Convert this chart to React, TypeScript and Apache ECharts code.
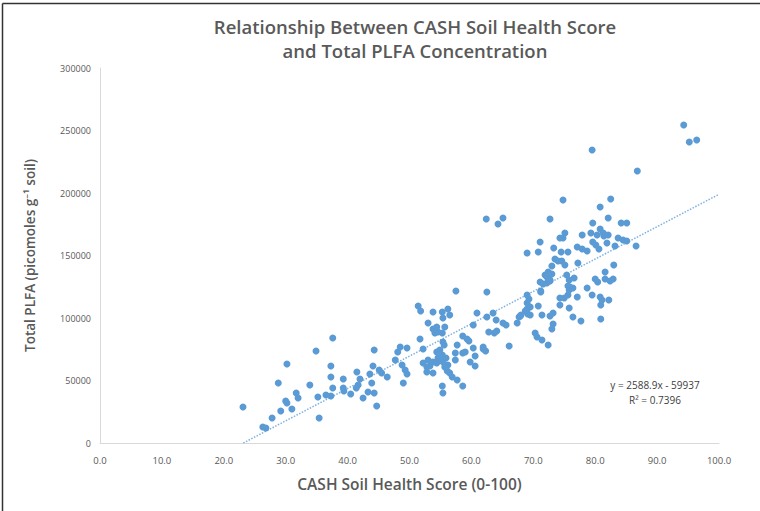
import React, { useEffect, useRef } from "react";
import * as echarts from "echarts";

const TITLE_LINES = ["Relationship Between CASH Soil Health Score", "and Total PLFA Concentration"];
const X_TITLE = "CASH Soil Health Score (0-100)";
const Y_TITLE = "Total PLFA (picomoles g\u207B\u00B9 soil)";
const EQUATION = "y = 2588.9x - 59937";
const R2_TEXT = "R\u00B2 = 0.7396";
const TREND_SLOPE = 2588.9;
const TREND_INTERCEPT = -59937;

const SCORES = [
  23.1, 26.3, 26.8, 27.8, 28.8, 29.2, 30.2, 30.0, 30.2, 31.0, 31.7, 32.0, 33.9, 34.9, 35.2, 35.4, 36.5, 37.3, 37.3, 37.3,
  37.6, 37.6, 39.3, 39.3, 39.4, 40.5, 41.5, 41.4, 41.7, 42.0, 42.5, 43.3, 43.6, 43.9, 44.3, 44.3, 44.1, 44.7, 45.1, 45.5,
  46.4, 47.7, 48.1, 48.5, 49.6, 48.8, 49.3, 49.6, 49.0, 51.4, 51.8, 53.8, 55.3, 56.2, 56.5, 55.4, 53.0, 53.8, 54.1, 54.6,
  55.3, 54.4, 55.7, 51.7, 52.2, 55.4, 55.6, 58.6, 59.3, 59.6, 57.7, 57.4, 58.6, 59.0, 52.2, 52.8, 52.8, 53.8, 54.4, 54.6,
  55.3, 55.4, 55.7, 56.1, 56.2, 56.5, 56.9, 57.7, 58.6, 55.3, 55.4, 53.0, 53.8, 53.3, 55.0, 54.4, 55.9, 54.9, 57.5, 57.4,
  60.3, 60.6, 59.8, 60.6, 61.9, 62.3, 62.5, 60.9, 60.3, 62.5, 63.5, 64.0, 65.1, 65.6, 62.8, 63.7, 64.1, 67.4, 67.9, 68.7,
  69.0, 69.1, 66.1, 70.3, 70.6, 71.4, 72.4, 73.0, 73.2, 69.0, 69.3, 69.0, 69.5, 68.0, 67.7, 69.5, 70.8, 71.4, 72.7, 73.2,
  71.2, 71.6, 72.2, 72.7, 71.1, 71.2, 62.4, 65.1, 64.3, 72.7, 71.1, 70.8, 69.0, 73.3, 74.5, 72.4, 71.9, 73.0, 72.2, 72.7,
  73.5, 74.0, 73.0, 74.8, 61.9, 74.8, 75.1, 74.3, 75.6, 74.6, 75.1, 75.4, 75.8, 76.6, 75.6, 76.4, 75.8, 75.6, 75.0, 74.3,
  74.3, 75.9, 77.1, 75.8, 76.4, 77.7, 77.2, 77.1, 77.9, 78.7, 77.9, 79.5, 79.6, 80.1, 80.6, 80.8, 79.6, 79.3, 80.3, 81.3,
  81.4, 82.1, 80.8, 82.5, 82.1, 84.2, 85.1, 83.7, 84.5, 85.1, 86.6, 81.9, 83.2, 83.0, 81.6, 81.6, 82.9, 80.0, 78.7, 79.5,
  80.8, 81.1, 82.2, 80.9, 80.9, 80.4, 82.4, 86.8, 94.3, 95.2, 96.4,
];

const PLFA = [
  28800, 12800, 12000, 20000, 48000, 25600, 63200, 33600, 32000, 27200, 40000, 36000, 46400, 73600, 36800, 20000, 38400, 37600, 52800, 61600,
  84000, 44000, 51200, 44000, 41600, 39200, 56800, 44000, 46400, 51200, 36000, 40800, 55200, 48000, 40000, 74400, 61600, 29600, 58400, 56000,
  52800, 66400, 72800, 76800, 76000, 62400, 58400, 55200, 48000, 109600, 105600, 104800, 104800, 107200, 102400, 100000, 96000, 91200, 88000, 88800,
  88000, 92800, 92800, 83200, 75200, 80800, 78400, 85600, 83200, 81600, 78400, 72000, 72000, 72800, 64000, 60800, 56800, 56000, 64000, 68000,
  70400, 64800, 60800, 57600, 62400, 56000, 52800, 50400, 45600, 45600, 40000, 66400, 64800, 61600, 66400, 72800, 68000, 74400, 121600, 66400,
  76000, 69600, 64800, 61600, 76800, 73600, 120800, 104000, 94400, 100800, 104000, 98400, 96000, 94400, 88800, 88000, 89600, 96000, 101600, 105600,
  107200, 103200, 77600, 88000, 84800, 82400, 78400, 91200, 95200, 118400, 115200, 112000, 108800, 102400, 100800, 102400, 109600, 102400, 101600, 104000,
  120800, 127200, 128000, 129600, 128800, 121600, 179200, 180000, 175200, 179200, 160800, 152800, 152000, 156000, 152800, 136800, 134400, 135200, 132800, 130400,
  147200, 145600, 141600, 194400, 75200, 164000, 168000, 164000, 152800, 145600, 142400, 134400, 130400, 132000, 125600, 124000, 122400, 118400, 116000, 116000,
  110400, 124800, 116800, 108000, 100800, 97600, 144000, 156800, 155200, 153600, 166400, 234400, 160800, 158400, 155200, 171200, 176000, 168000, 166400, 168000,
  165600, 166400, 188800, 195200, 180000, 176000, 176000, 164000, 162400, 161600, 157600, 160000, 157600, 142400, 136800, 131200, 131200, 131200, 124000, 118400,
  116800, 114400, 114400, 110400, 99200, 128800, 129600, 217600, 254400, 240800, 242400,
];

const X_MIN = 0;
const X_MAX = 100;
const X_INTERVAL = 10;
const Y_MIN = 0;
const Y_MAX = 300000;
const Y_INTERVAL = 50000;

export default function App() {
  const ref = useRef<HTMLDivElement>(null);
  useEffect(() => {
    if (!ref.current) return;
    const chart = echarts.init(ref.current, null, { renderer: "svg" });
    const points = SCORES.map((s, i) => [s, PLFA[i]]);
    const xStart = -TREND_INTERCEPT / TREND_SLOPE;
    const trend = [
      [xStart, 0],
      [X_MAX, TREND_SLOPE * X_MAX + TREND_INTERCEPT],
    ];
    const font = "'Open Sans', 'Noto Sans', sans-serif";
    chart.setOption({
      animation: false,
      backgroundColor: "#ffffff",
      textStyle: { fontFamily: font },
      grid: { left: 100, right: 41, top: 68, bottom: 68, containLabel: false },
      xAxis: {
        type: "value",
        min: X_MIN,
        max: X_MAX,
        interval: X_INTERVAL,
        name: X_TITLE,
        nameLocation: "middle",
        nameGap: 33,
        nameTextStyle: { fontSize: 15.5, fontWeight: 600, color: "#595959", fontFamily: font },
        axisLine: { show: true, lineStyle: { color: "#D9D9D9", width: 1 } },
        axisTick: { show: false },
        splitLine: { show: false },
        axisLabel: {
          color: "#595959",
          fontSize: 9.5,
          margin: 12,
          fontFamily: font,
          formatter: (v: number) => v.toFixed(1),
        },
      },
      yAxis: {
        type: "value",
        min: Y_MIN,
        max: Y_MAX,
        interval: Y_INTERVAL,
        name: Y_TITLE,
        nameLocation: "middle",
        nameRotate: 90,
        nameGap: 63,
        nameTextStyle: { fontSize: 13.5, fontWeight: 600, color: "#595959", fontFamily: font },
        axisLine: { show: true, lineStyle: { color: "#D9D9D9", width: 1 } },
        axisTick: { show: false },
        splitLine: { show: false },
        axisLabel: { color: "#595959", fontSize: 9, margin: 9, fontFamily: font, formatter: (v: number) => String(v) },
      },
      graphic: [
        {
          type: "line",
          shape: { x1: 2.5, y1: 3.5, x2: 2.5, y2: 520 },
          style: { stroke: "#333333", lineWidth: 1.5 },
          silent: true,
        },
        {
          type: "line",
          shape: { x1: 2.5, y1: 3.5, x2: 770, y2: 3.5 },
          style: { stroke: "#333333", lineWidth: 1.5 },
          silent: true,
        },
        {
          type: "text",
          x: 415,
          y: 26,
          style: {
            text: TITLE_LINES[0],
            fill: "#595959",
            fontSize: 18.5,
            fontWeight: 600,
            fontFamily: font,
            align: "center",
            verticalAlign: "middle",
          },
        },
        {
          type: "text",
          x: 415,
          y: 50,
          style: {
            text: TITLE_LINES[1],
            fill: "#595959",
            fontSize: 18.5,
            fontWeight: 600,
            fontFamily: font,
            align: "center",
            verticalAlign: "middle",
          },
        },
        {
          type: "text",
          x: 655,
          y: 385,
          style: {
            text: EQUATION,
            fill: "#404040",
            fontSize: 10,
            fontFamily: font,
            align: "center",
            verticalAlign: "middle",
          },
        },
        {
          type: "text",
          x: 655,
          y: 400,
          style: {
            text: R2_TEXT,
            fill: "#404040",
            fontSize: 10,
            fontFamily: font,
            align: "center",
            verticalAlign: "middle",
          },
        },
      ],
      series: [
        {
          type: "line",
          data: trend,
          symbol: "none",
          silent: true,
          lineStyle: { color: "#7EB1E0", width: 1.5, type: [1.5, 1.5] },
          z: 1,
        },
        {
          type: "scatter",
          data: points,
          symbol: "circle",
          symbolSize: 7,
          itemStyle: { color: "#5B9BD5", opacity: 1 },
          z: 2,
        },
      ],
    });
    return () => chart.dispose();
  }, []);
  return <div ref={ref} style={{ width: 760, height: 511, position: "absolute", left: 0, top: 0 }} />;
}
